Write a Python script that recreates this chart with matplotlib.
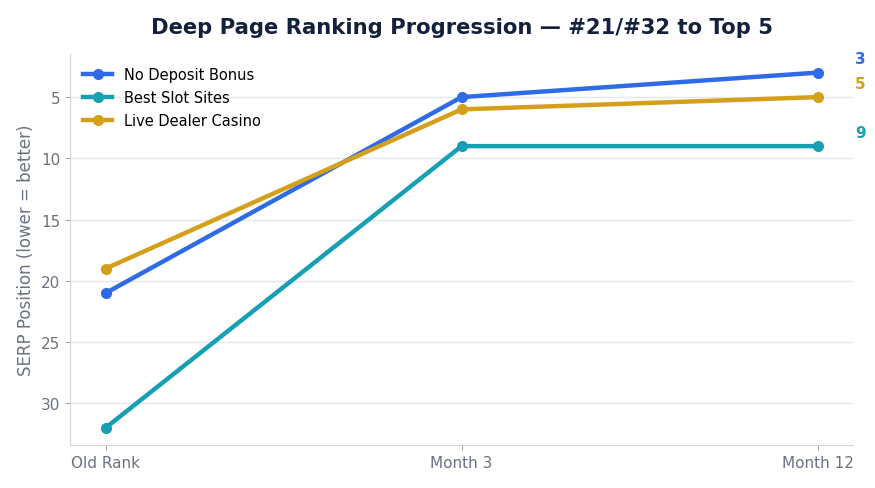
import matplotlib
matplotlib.use("Agg")
import matplotlib.pyplot as plt

stages = ["Old Rank", "Month 3", "Month 12"]
no_deposit = [21, 5, 3]
slot_sites = [32, 9, 9]
live_dealer = [19, 6, 5]

series = [
    ("No Deposit Bonus", no_deposit, "#2f6be6"),
    ("Best Slot Sites", slot_sites, "#17a0b3"),
    ("Live Dealer Casino", live_dealer, "#d4a01c"),
]

fig, ax = plt.subplots(figsize=(8.75, 4.89), dpi=100)
x = list(range(len(stages)))

for name, vals, col in series:
    ax.plot(x, vals, color=col, lw=3.2, marker="o", ms=7, label=name, zorder=3)
    ax.annotate(str(vals[-1]), (x[-1], vals[-1]), xytext=(27, 10),
                textcoords="offset points", color=col, fontsize=11,
                fontweight="bold", ha="left", va="center")

ax.set_xlim(-0.1, 2.1)
ax.set_ylim(33.4, 1.5)
ax.set_yticks([5, 10, 15, 20, 25, 30])
ax.set_xticks(x)
ax.set_xticklabels(stages)
ax.set_ylabel("SERP Position (lower = better)", color="#6b7280", fontsize=12)
ax.set_title("Deep Page Ranking Progression — #21/#32 to Top 5",
             fontsize=15.2, fontweight="bold", color="#14213d", pad=15)

ax.yaxis.grid(True, color="#e5e7eb", lw=1)
ax.set_axisbelow(True)
for s in ["top", "right"]:
    ax.spines[s].set_visible(False)
for s in ["left", "bottom"]:
    ax.spines[s].set_color("#d1d5db")
ax.tick_params(colors="#6b7280", labelsize=11)
ax.tick_params(axis="both", color="#9ca3af")

ax.legend(loc="upper left", frameon=False, fontsize=10.5, handlelength=2,
          borderaxespad=0.5, labelspacing=0.55)

fig.subplots_adjust(left=0.08, right=0.975, top=0.887, bottom=0.088)
fig.savefig("out.png", dpi=100)
